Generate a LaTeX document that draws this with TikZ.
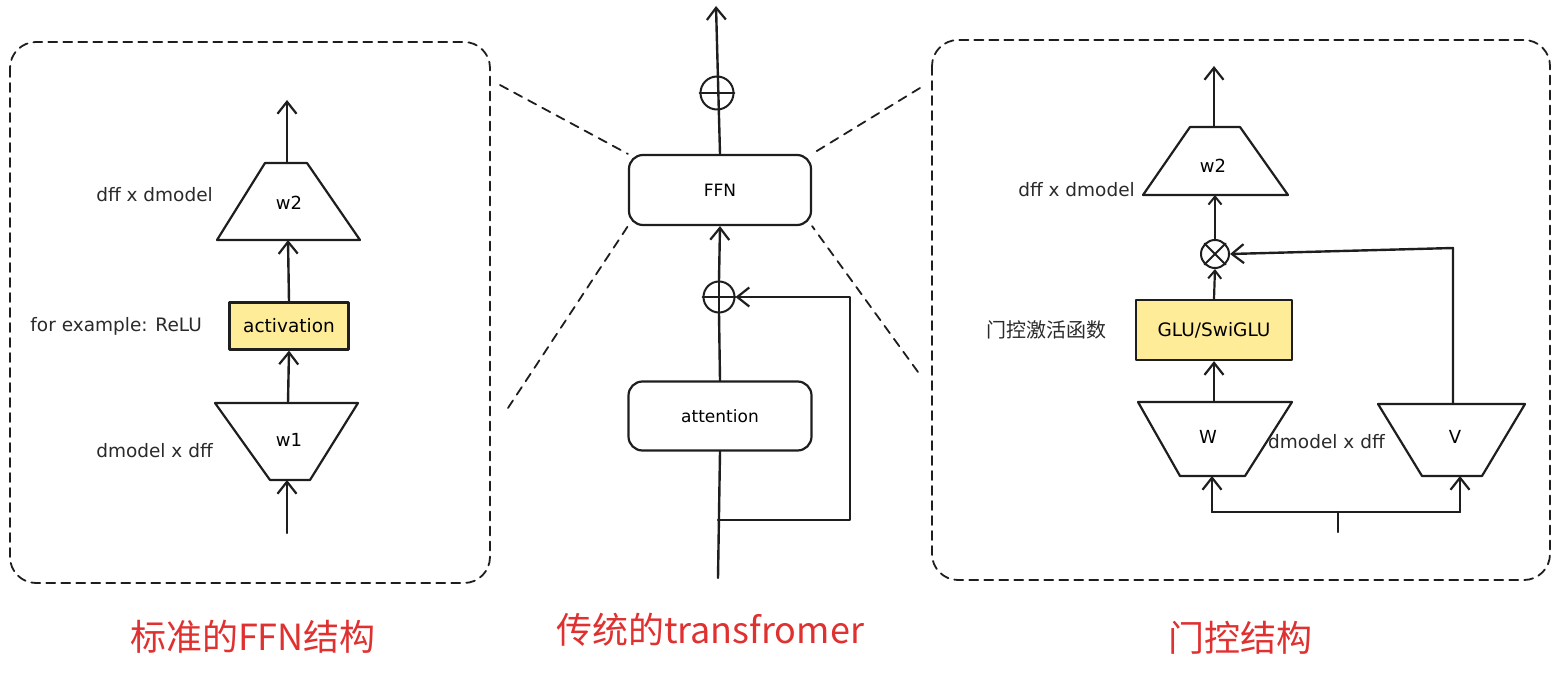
\documentclass[tikz,border=0pt]{standalone}
\usepackage{fontspec}
\setmainfont{DejaVu Sans}
\newfontfamily\cjk{Noto Sans CJK SC}
\usetikzlibrary{arrows.meta}
\definecolor{ink}{HTML}{1E1E1E}
\definecolor{yel}{HTML}{FFEC99}
\definecolor{tred}{HTML}{E03131}
\definecolor{lbl}{HTML}{2A2A2A}
\begin{document}
\begin{tikzpicture}[x=1pt,y=-1pt,line cap=round,line join=round,
  ln/.style={draw=ink,line width=2.4pt},
  arr/.style={draw=ink,line width=2.4pt,-{Straight Barb[length=12pt,width=19pt,line width=2.2pt]}},
  sarr/.style={draw=ink,line width=2.2pt,-{Straight Barb[length=8pt,width=13pt,line width=2pt]}},
  panel/.style={draw=ink,line width=1.8pt,dash pattern=on 9pt off 6pt,rounded corners=26pt},
  zoomln/.style={draw=ink,line width=1.8pt,dash pattern=on 9pt off 7pt},
  trap/.style={draw=ink,line width=2.2pt,fill=white},
  rbox/.style={draw=ink,line width=2.2pt,rounded corners=14pt,minimum width=182pt,minimum height=70pt,inner sep=0pt,font=\fontsize{17}{20}\selectfont},
  ybox/.style={draw=ink,line width=2.2pt,fill=yel,inner sep=0pt,font=\fontsize{18.5}{22}\selectfont},
  lab/.style={text=lbl,inner sep=0pt,font=\fontsize{18.5}{22}\selectfont},
  tlab/.style={inner sep=0pt,font=\fontsize{18}{21}\selectfont},
  ttl/.style={text=tred,inner sep=0pt,font=\cjk\fontsize{36}{40}\selectfont},
  op/.style={circle,draw=ink,line width=2pt,inner sep=0pt}]
\useasboundingbox (0,0) rectangle (1558,674);

% ---------------- left panel ----------------
\draw[panel] (10,42) rectangle (490,583);
\draw[trap] (265,163) -- (307,163) -- (360,240) -- (217,240) -- cycle;
\node[tlab] (w2a) at (289,203) {w2};
\coordinate (w2aT) at (287,163);
\coordinate (w2aB) at (288,240);
\coordinate (outA) at (287,100);
\node[ybox,minimum width=119pt,minimum height=47pt] (actA) at (289,326) {activation};
\draw[trap] (215,403) -- (358,403) -- (310,480) -- (270,480) -- cycle;
\node[tlab] (w1a) at (289,440) {w1};
\coordinate (w1aT) at (288,403);
\coordinate (w1aB) at (287,480);
\coordinate (inA) at (287,533);
\draw[arr] (w2aT) -- (outA);
\draw[arr] (actA.north) -- (w2aB);
\draw[arr] (w1aT) -- (actA.south);
\draw[arr] (inA) -- (w1aB);
\node[lab,anchor=east] (lA1) at (213,195) {dff x dmodel};
\node[lab,anchor=east] (lA2) at (202,326) {for example: ReLU};
\node[lab,anchor=east] (lA3) at (213,451) {dmodel x dff};

% ---------------- middle ----------------
\node[rbox] (ffn) at (720,190) {FFN};
\node[rbox,minimum width=183pt,minimum height=69pt] (attn) at (720,416) {attention};
\node[op,minimum size=33pt] (pl1) at (717,93) {};
\node[op,minimum size=31pt] (pl2) at (719,297) {};
\coordinate (outM) at (716,6);
\coordinate (inM) at (718,578);
\coordinate (split) at (718,520);
\coordinate (rc) at (850,520);
\coordinate (rt) at (850,297);
\draw[arr] (ffn.north) -- (outM);
\draw[ln,line width=1.8pt] (pl1.west) -- (pl1.east);
\draw[ln,line width=1.8pt] (pl2.west) -- (pl2.east);
\draw[ln,line width=1.8pt] (pl2.north) -- (pl2.south);
\draw[ln] (attn.north) -- (pl2.south);
\draw[arr] (pl2.north) -- (ffn.south);
\draw[ln] (inM) -- (attn.south);
\draw[arr] (split) -- (rc) -- (rt) -- (pl2.east);

% zoom connectors
\coordinate (zl1) at (500,85);
\coordinate (zl2) at (508,408);
\coordinate (zr1) at (920,88);
\coordinate (zr2) at (918,372);
\draw[zoomln] (zl1) -- (ffn.north west);
\draw[zoomln] (zl2) -- (ffn.south west);
\draw[zoomln] (zr1) -- (ffn.north east);
\draw[zoomln] (zr2) -- (ffn.south east);

% ---------------- right panel ----------------
\draw[panel] (932,40) rectangle (1550,580);
\draw[trap] (1190,127) -- (1240,127) -- (1288,195) -- (1143,195) -- cycle;
\node[tlab] (w2b) at (1213,166) {w2};
\coordinate (w2bT) at (1214,127);
\coordinate (w2bB) at (1215,195);
\coordinate (outB) at (1214,66);
\node[op,minimum size=28pt] (mul) at (1215,254) {};
\draw[ln,line width=1.8pt] (mul.north east) -- (mul.south west);
\draw[ln,line width=1.8pt] (mul.north west) -- (mul.south east);
\node[ybox,minimum width=156pt,minimum height=60pt] (glu) at (1214,330) {GLU/SwiGLU};
\draw[trap] (1138,402) -- (1292,402) -- (1245,476) -- (1180,476) -- cycle;
\node[tlab] (Wn) at (1208,437) {W};
\draw[trap] (1378,404) -- (1525,404) -- (1482,476) -- (1422,476) -- cycle;
\node[tlab] (Vn) at (1455,437) {V};
\coordinate (WT) at (1214,402);
\coordinate (WB) at (1212,476);
\coordinate (VT) at (1453,404);
\coordinate (VB) at (1460,476);
\coordinate (vc) at (1453,248);
\coordinate (bl) at (1212,512);
\coordinate (br) at (1460,512);
\coordinate (bs) at (1338,512);
\coordinate (inB) at (1338,532);
\draw[arr] (w2bT) -- (outB);
\draw[sarr] (mul.north) -- (w2bB);
\draw[sarr] (glu.north) -- (mul.south);
\draw[arr] (WT) -- (glu.south);
\draw[arr] (VT) -- (vc) -- (mul.east);
\draw[ln] (bl) -- (br);
\draw[ln] (inB) -- (bs);
\draw[arr] (bl) -- (WB);
\draw[arr] (br) -- (VB);
\node[lab,anchor=east] (lB1) at (1135,190) {dff x dmodel};
\node[lab,anchor=west] (lB2) at (1268,442) {dmodel x dff};
\node[lab,anchor=east,font=\cjk\fontsize{20}{23}\selectfont] (lB3) at (1107,330) {门控激活函数};

% ---------------- titles ----------------
\node[ttl] (t1) at (253,637) {标准的FFN结构};
\node[ttl] (t2) at (710,630) {传统的transfromer};
\node[ttl] (t3) at (1240,638) {门控结构};
\end{tikzpicture}
\end{document}
